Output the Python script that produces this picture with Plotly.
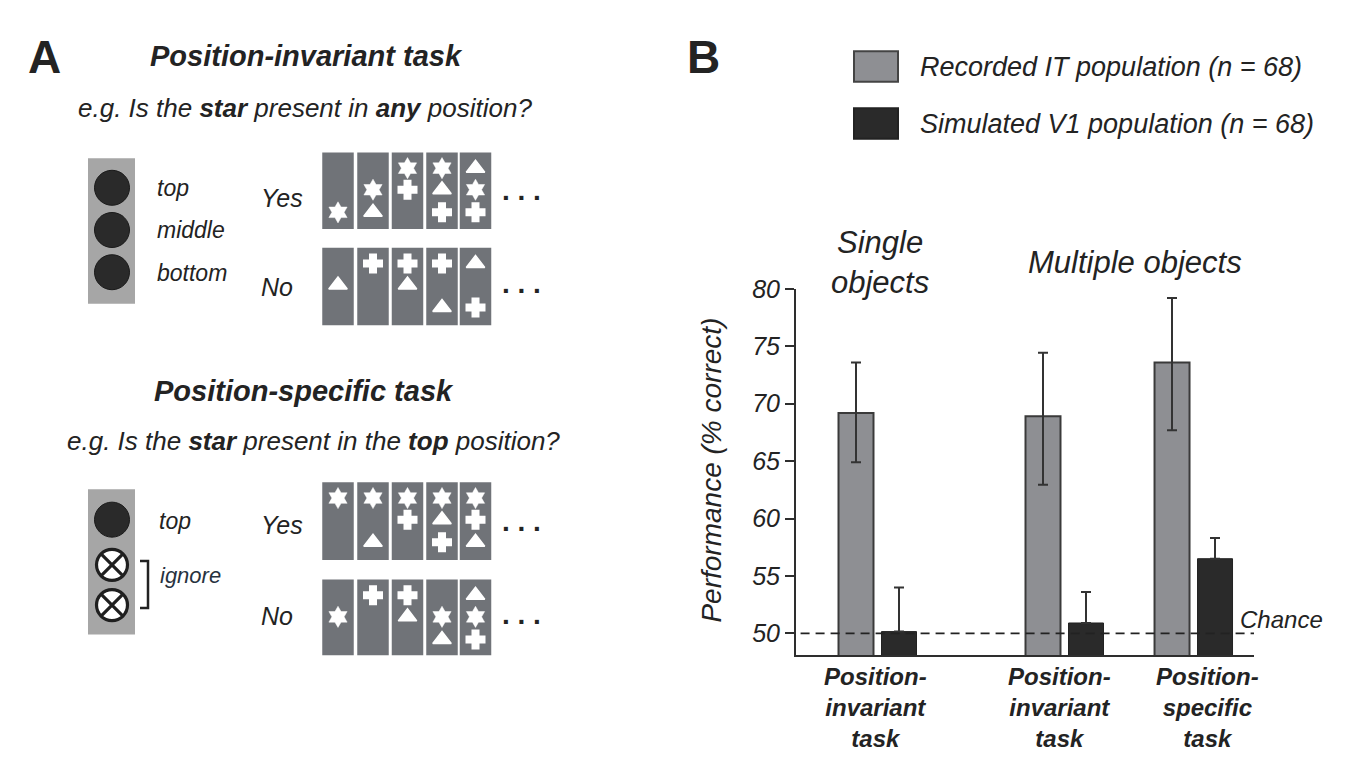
import plotly.graph_objects as go

W, H = 1347, 771
FONT = "Liberation Sans"
TXT = "#232323"
AXC = "#2e2e2e"

# ------------------------------------------------------------------ data ----
condition_labels = ["Position-<br>invariant<br>task",
                    "Position-<br>invariant<br>task",
                    "Position-<br>specific<br>task"]
group_titles = ["Single<br>objects", "Multiple objects"]
series_names = ["Recorded IT population (n = 68)",
                "Simulated V1 population (n = 68)"]
it_mean = [69.2, 68.9, 73.6]
it_err_plus = [4.4, 5.55, 5.6]
it_err_minus = [4.3, 5.95, 5.9]
v1_mean = [50.15, 50.9, 56.5]
v1_err_plus = [3.85, 2.7, 1.8]
y_ticks = [50, 55, 60, 65, 70, 75, 80]
chance_level = 50

# stimulus displays: (top, middle, bottom) object in each display
inv_yes = [(None, None, "star"), (None, "star", "tri"), ("star", "cross", None),
           ("star", "tri", "cross"), ("tri", "star", "cross")]
inv_no = [(None, "tri", None), ("cross", None, None), ("cross", "tri", None),
          ("cross", None, "tri"), ("tri", None, "cross")]
spec_yes = [("star", None, None), ("star", None, "tri"), ("star", "cross", None),
            ("star", "tri", "cross"), ("star", "cross", "tri")]
spec_no = [(None, "star", None), ("cross", None, None), ("cross", "tri", None),
           (None, "star", "tri"), ("tri", "star", "cross")]

# ---------------------------------------------------------------- layout ----
def px(x):
    return x / W


def py(y):
    return 1 - y / H


GRAY_BAR = "#8e8f93"
BLACK_BAR = "#2a2a2a"
PANEL = "#707378"
COLUMN = "#a6a6a6"

# bar-chart geometry (pixels of the page)
AX_L, AX_R, AX_T, AX_B = 796, 1254, 280, 653
UNIT = 187.0                      # pixels per x unit
group_pos = [0.0, 1.0, 1.69]
x_lo = (AX_L - 877) / UNIT
x_hi = (AX_R - 877) / UNIT
bw = 35 / UNIT
gray_off = -21 / UNIT - bw / 2
black_off = 22 / UNIT - bw / 2

fig = go.Figure()

fig.add_trace(go.Bar(
    x=group_pos, y=it_mean, width=bw, offset=gray_off, name=series_names[0],
    marker=dict(color=GRAY_BAR, line=dict(color="#3a3a3a", width=2)),
    error_y=dict(type="data", array=it_err_plus, arrayminus=it_err_minus,
                 color="#333333", thickness=2, width=5),
    xaxis="x", yaxis="y", showlegend=False, hoverinfo="y"))
fig.add_trace(go.Bar(
    x=group_pos, y=v1_mean, width=bw, offset=black_off, name=series_names[1],
    marker=dict(color=BLACK_BAR, line=dict(color="#222222", width=1)),
    error_y=dict(type="data", array=v1_err_plus, arrayminus=[0] * len(v1_mean),
                 color="#333333", thickness=2, width=5),
    xaxis="x", yaxis="y", showlegend=False, hoverinfo="y"))

shapes = []
annotations = []


def text(x, y, s, size, xanchor="center", italic=True, bold=False,
         color=TXT, angle=0):
    annotations.append(dict(
        x=px(x), y=py(y), xref="paper", yref="paper", text=s, showarrow=False,
        xanchor=xanchor, yanchor="middle", textangle=angle,
        font=dict(family=FONT, size=size, color=color,
                  style="italic" if italic else "normal",
                  weight="bold" if bold else "normal")))


# chance line
shapes.append(dict(type="line", xref="x domain", yref="y", x0=0.01, x1=1,
                   y0=chance_level, y1=chance_level,
                   line=dict(color="#222222", width=1.6, dash="9px,6px")))
text(1281, 617, "Chance", 24)

# axis labels / group titles
text(712, 465, "Performance (% correct)", 28, angle=-90)
text(880, 253, group_titles[0], 31)
text(1135, 253, group_titles[1], 31)
label_x = [875, 1059, 1207]
for lx, lab in zip(label_x, condition_labels):
    text(lx, 706, lab, 24, bold=True)

# legend
leg_colors = [(GRAY_BAR, "#444444"), (BLACK_BAR, "#222222")]
for i, (name, (fc, lc)) in enumerate(zip(series_names, leg_colors)):
    y0 = 38 + i * 58
    shapes.append(dict(type="rect", xref="paper", yref="paper",
                       x0=px(854), x1=px(898), y0=py(y0), y1=py(y0 + 31),
                       fillcolor=fc, line=dict(color=lc, width=2)))
    text(918, y0 + 16, name, 27, xanchor="left")

# panel letters
text(44, 44, "A", 46, italic=False, bold=True)
text(703, 44, "B", 46, italic=False, bold=True)

# ------------------------------------------------------------- panel A ----
text(306, 43, "Position-invariant task", 29, bold=True)
text(305, 96, "e.g. Is the <b>star</b> present in <b>any</b> position?", 26)
text(304, 384, "Position-specific task", 29, bold=True)
text(313, 435, "e.g. Is the <b>star</b> present in the <b>top</b> position?", 26)

# position columns
for (y0, y1) in [(147, 295), (484, 632)]:
    shapes.append(dict(type="rect", xref="x2", yref="y2", x0=88, x1=135,
                       y0=y0, y1=y1, fillcolor=COLUMN, line=dict(width=0),
                       layer="below"))

fig.add_trace(go.Scatter(
    x=[112, 112, 112, 112], y=[177, 220, 263, 515], mode="markers",
    marker=dict(symbol="circle", size=35, color="#2a2a2a",
                line=dict(color="#1a1a1a", width=1)),
    xaxis="x2", yaxis="y2", showlegend=False, hoverinfo="skip"))
fig.add_trace(go.Scatter(
    x=[112, 112], y=[561, 602], mode="markers",
    marker=dict(symbol="circle-x", size=31, color="white",
                line=dict(color="#1f1f1f", width=3.2)),
    xaxis="x2", yaxis="y2", showlegend=False, hoverinfo="skip"))

text(155, 177, "top", 23, xanchor="left")
text(155, 220, "middle", 23, xanchor="left")
text(155, 264, "bottom", 23, xanchor="left")
text(157, 516, "top", 23, xanchor="left")
text(158, 572, "ignore", 22, xanchor="left", color="#27323e")
shapes.append(dict(type="path", xref="x2", yref="y2",
                   path="M 140 557 L 148 557 L 148 605 L 140 605",
                   line=dict(color="#222222", width=2.5)))

for (yy, lab) in [(187, "Yes"), (278, "No"), (520, "Yes"), (613, "No")]:
    text(259, yy, lab, 25, xanchor="left")
for yy in [180, 274, 517, 612]:
    text(521, yy, "<b>. . .</b>", 28, italic=False)

PANEL_X = [338, 373, 407.5, 442, 475.5]
PANEL_W = 31.5
SLOT = [16, 38, 61]
rows = [(141, 219, inv_yes), (238, 317, inv_no),
        (477, 556, spec_yes), (576, 653, spec_no)]
pts = {"star": ([], []), "cross": ([], []), "tri": ([], [])}
for (t, b, displays) in rows:
    for cx, disp in zip(PANEL_X, displays):
        shapes.append(dict(type="rect", xref="x2", yref="y2",
                           x0=cx - PANEL_W / 2, x1=cx + PANEL_W / 2, y0=t, y1=b,
                           fillcolor=PANEL, line=dict(width=0), layer="below"))
        for slot, obj in zip(SLOT, disp):
            if obj:
                pts[obj][0].append(cx)
                pts[obj][1].append(t + slot)

sym = {"star": ("hexagram", 16, 0.5), "cross": ("cross", 15, 2),
       "tri": ("triangle-up", 16, 1.5)}
for k, (xs, ys) in pts.items():
    s, sz, lw = sym[k]
    fig.add_trace(go.Scatter(
        x=xs, y=ys, mode="markers",
        marker=dict(symbol=s, size=sz, color="white",
                    line=dict(color="white", width=lw)),
        xaxis="x2", yaxis="y2", showlegend=False, hoverinfo="skip"))

fig.update_layout(
    width=W, height=H, margin=dict(l=0, r=0, t=0, b=0),
    paper_bgcolor="white", plot_bgcolor="rgba(0,0,0,0)",
    showlegend=False, barmode="overlay",
    xaxis=dict(domain=[px(AX_L), px(AX_R)], range=[x_lo, x_hi],
               showline=True, linecolor=AXC, linewidth=2, ticks="",
               showticklabels=False, showgrid=False, zeroline=False,
               anchor="y"),
    yaxis=dict(domain=[py(AX_B), py(AX_T)], range=[48.1, 80],
               tickvals=y_ticks, ticks="outside", ticklen=9, tickwidth=2,
               tickcolor=AXC, showline=True, linecolor=AXC, linewidth=2,
               showgrid=False, zeroline=False, anchor="x",
               tickfont=dict(family=FONT, size=25, color=TXT, style="italic")),
    xaxis2=dict(domain=[0, 0.45], range=[0, 0.45 * W], visible=False,
                anchor="y2"),
    yaxis2=dict(domain=[0, 1], range=[H, 0], visible=False, anchor="x2"),
    shapes=shapes, annotations=annotations,
)

fig.write_html("out.html",
               config={"displayModeBar": False},
               post_script="document.body.style.margin='0';"
                           "document.body.style.overflow='hidden';")
